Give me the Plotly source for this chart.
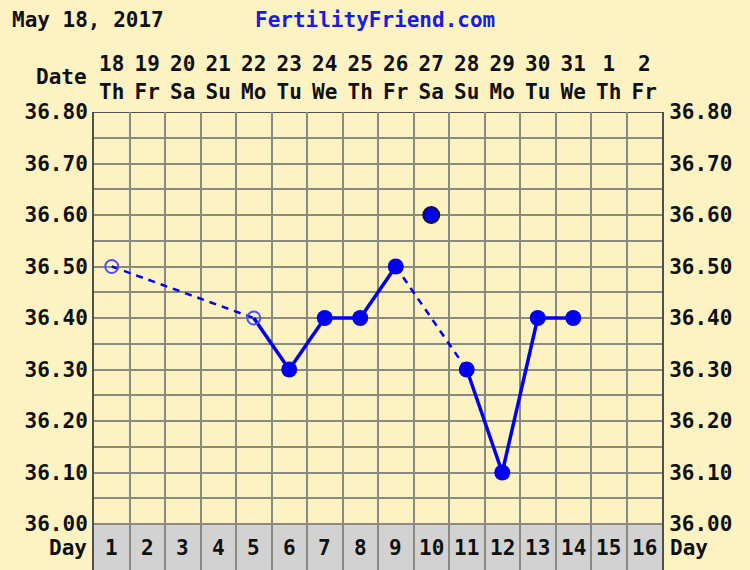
import plotly.graph_objects as go

# ---- data ----
cycle_days = list(range(1, 17))
dates = ["18", "19", "20", "21", "22", "23", "24", "25", "26", "27", "28", "29", "30", "31", "1", "2"]
weekdays = ["Th", "Fr", "Sa", "Su", "Mo", "Tu", "We", "Th", "Fr", "Sa", "Su", "Mo", "Tu", "We", "Th", "Fr"]
temps = [36.50, None, None, None, 36.40, 36.30, 36.40, 36.40, 36.50, 36.60,
         36.30, 36.10, 36.40, 36.40, None, None]
open_days = [1, 5]          # hollow markers
discarded_days = [10]       # not connected
temp_ticks = [36.00, 36.10, 36.20, 36.30, 36.40, 36.50, 36.60, 36.70, 36.80]
chart_date = "May 18, 2017"
site = "FertilityFriend.com"

# ---- style ----
BG = "#fdf3c2"
GRID = "#8a8a80"
BORDER = "#505050"
BLUE = "#0000f0"
OPEN_BLUE = "#5050ff"
FONT = "DejaVu Sans Mono"
FS = 21
YMIN = 35.9107
YMAX = 36.80

W, H = 750, 570
L, T = 94, 112
R = 750 - 662
B = 0

fig = go.Figure()

pts = [(d, t) for d, t in zip(cycle_days, temps) if t is not None and d not in discarded_days]
for (d0, t0), (d1, t1) in zip(pts[:-1], pts[1:]):
    consecutive = (d1 - d0 == 1)
    fig.add_trace(go.Scatter(
        x=[d0, d1], y=[t0, t1], mode="lines",
        line=dict(color=BLUE, width=3.5 if consecutive else 2.5,
                  dash="solid" if consecutive else "7px,6px"),
        hoverinfo="skip", showlegend=False))

fx = [d for d, t in pts if d not in open_days]
fy = [t for d, t in pts if d not in open_days]
fig.add_trace(go.Scatter(x=fx, y=fy, mode="markers",
                         marker=dict(size=16, color=BLUE, line=dict(width=0)),
                         showlegend=False))
ox = [d for d, t in pts if d in open_days]
oy = [t for d, t in pts if d in open_days]
fig.add_trace(go.Scatter(x=ox, y=oy, mode="markers",
                         marker=dict(size=13, color="rgba(0,0,0,0)",
                                     line=dict(width=2, color=OPEN_BLUE)),
                         showlegend=False))
dx = list(discarded_days)
dy = [temps[cycle_days.index(d)] for d in discarded_days]
fig.add_trace(go.Scatter(x=dx, y=dy, mode="markers",
                         marker=dict(size=16, color=BLUE, line=dict(width=2, color="#101030")),
                         showlegend=False))

fig.add_trace(go.Scatter(x=[1], y=[36.0], xaxis="x2", yaxis="y2", mode="markers",
                         marker=dict(opacity=0), hoverinfo="skip", showlegend=False))

grid_vals = [round(36.0 + 0.05 * i, 2) for i in range(17)]
grid_text = [f"{v:.2f}" if any(abs(v - t) < 1e-6 for t in temp_ticks) else "" for v in grid_vals]

tickfont = dict(family=FONT, size=FS, color="#101010", weight="bold")

fig.update_layout(
    width=W, height=H,
    margin=dict(l=L, r=R, t=T, b=B, autoexpand=False),
    paper_bgcolor=BG, plot_bgcolor=BG,
    xaxis=dict(range=[0.5, 16.5], tickvals=[0.5 + i for i in range(17)], showticklabels=False,
               showgrid=True, gridcolor=GRID, gridwidth=2, zeroline=False, showline=False,
               fixedrange=True),
    xaxis2=dict(range=[0.5, 16.5], overlaying="x", side="top", anchor="y",
                tickvals=cycle_days, ticktext=[f"{d}<br>{w}" for d, w in zip(dates, weekdays)],
                showgrid=False, zeroline=False, ticks="outside", ticklen=4, tickcolor="rgba(0,0,0,0)",
                tickfont=tickfont, tickangle=0),
    yaxis=dict(range=[YMIN, YMAX], tickvals=grid_vals, ticktext=grid_text,
               showgrid=True, gridcolor=GRID, gridwidth=2, zeroline=False,
               showline=True, linecolor=BORDER, linewidth=2, mirror=True,
               ticks="", tickfont=tickfont),
    yaxis2=dict(range=[YMIN, YMAX], overlaying="y", side="right", anchor="x",
                tickvals=grid_vals, ticktext=grid_text, showgrid=False, zeroline=False,
                ticks="outside", ticklen=2, tickcolor="rgba(0,0,0,0)", tickfont=tickfont),
    shapes=[
        dict(type="rect", xref="x", yref="y", x0=0.5, x1=16.5, y0=YMIN, y1=36.0,
             fillcolor="#d2d2d2", line=dict(width=0), layer="below"),
        dict(type="line", xref="x", yref="y", x0=0.5, x1=16.5, y0=36.0, y1=36.0,
             line=dict(color=BORDER, width=2), layer="below"),
        dict(type="line", xref="x", yref="y", x0=0.5, x1=16.5, y0=36.8, y1=36.8,
             line=dict(color=BORDER, width=2), layer="below"),
    ],
)

pw = W - L - R
ph = H - T - B
def px(xp):  # page pixel -> paper
    return (xp - L) / pw
def py(yp):
    return 1 - (yp - T) / ph

ann = []
for d in cycle_days:
    ann.append(dict(x=d, y=py(548), xref="x", yref="paper", text=str(d), showarrow=False,
                    font=tickfont, xanchor="center", yanchor="middle"))
ann += [
    dict(x=px(10), y=py(20), xref="paper", yref="paper", text=chart_date, showarrow=False,
         font=tickfont, xanchor="left", yanchor="middle"),
    dict(x=px(375), y=py(20), xref="paper", yref="paper", text=site, showarrow=False,
         font=dict(family=FONT, size=FS, color="#1a1ae6", weight="bold"), xanchor="center", yanchor="middle"),
    dict(x=px(89), y=py(77), xref="paper", yref="paper", text="Date", showarrow=False,
         font=tickfont, xanchor="right", yanchor="middle"),
    dict(x=px(89), y=py(548), xref="paper", yref="paper", text="Day", showarrow=False,
         font=tickfont, xanchor="right", yanchor="middle"),
    dict(x=px(668), y=py(548), xref="paper", yref="paper", text="Day", showarrow=False,
         font=tickfont, xanchor="left", yanchor="middle"),
]
fig.update_layout(annotations=ann)

fig.write_html(
    "out.html",
    config={"displayModeBar": False},
    post_script=f"document.body.style.margin='0';document.body.style.padding='0';"
                f"document.body.style.background='{BG}';document.body.style.overflow='hidden';",
)
